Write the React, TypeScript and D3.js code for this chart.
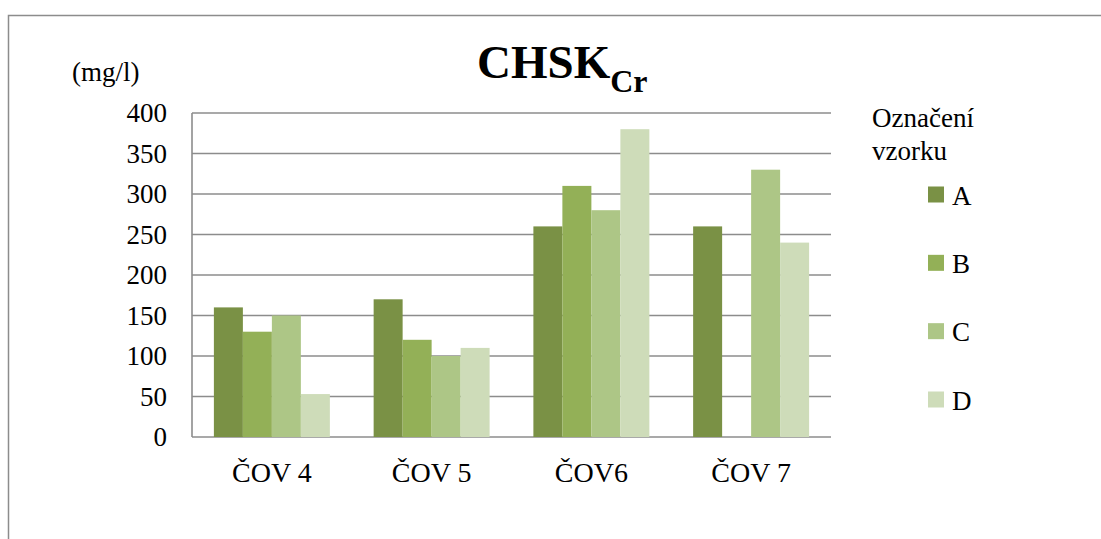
import React from "react";
import * as d3 from "d3";

const categories = ["ČOV 4", "ČOV 5", "ČOV6", "ČOV 7"];
const seriesNames = ["A", "B", "C", "D"];
const seriesA = [160, 170, 260, 260];
const seriesB = [130, 120, 310, null];
const seriesC = [150, 100, 280, 330];
const seriesD = [53, 110, 380, 240];
const yTicks = [0, 50, 100, 150, 200, 250, 300, 350, 400];
const colors = ["#7a9145", "#93b057", "#adc686", "#cedcb9"];

const W = 1101;
const H = 539;
const plot = { left: 192, right: 831, top: 113, bottom: 437 };
const FONT = "Liberation Serif, Times New Roman, Times, Tinos, DejaVu Serif, serif";
const GRID = "#8c8c8c";
const textStyle = { fontFamily: FONT };

export default function App() {
  const series = [seriesA, seriesB, seriesC, seriesD];
  const x0 = d3
    .scaleBand<string>()
    .domain(categories)
    .range([plot.left, plot.right])
    .paddingInner(0.274)
    .paddingOuter(0.137);
  const x1 = d3.scaleBand<string>().domain(seriesNames).range([0, x0.bandwidth()]);
  const y = d3.scaleLinear().domain([0, 400]).range([plot.bottom, plot.top]);

  const legendY = d3.scalePoint<string>().domain(seriesNames).range([194.5, 399.5]);

  return (
    <svg
      width={W}
      height={H}
      style={{ position: "absolute", left: 0, top: 0, background: "#fff", fontFamily: FONT }}
    >
      {/* chart frame */}
      <path d={`M8.5,${H} V15.5 H${W}`} fill="none" stroke={GRID} strokeWidth={1.5} />

      {/* title */}
      <text x={477} y={78} fontSize={47} fontWeight="bold" fill="#000" style={textStyle}>
        CHSK
        <tspan fontSize={32} dy={14}>Cr</tspan>
      </text>

      {/* unit label */}
      <text x={72} y={81} fontSize={27} fill="#000" style={textStyle}>(mg/l)</text>

      {/* gridlines */}
      {yTicks.map((t) => (
        <line
          key={t}
          x1={plot.left}
          x2={plot.right}
          y1={y(t)}
          y2={y(t)}
          stroke={GRID}
          strokeWidth={1.6}
        />
      ))}
      <line x1={plot.left} x2={plot.left} y1={plot.top} y2={plot.bottom} stroke={GRID} strokeWidth={1.6} />

      {/* y tick labels */}
      {yTicks.map((t) => (
        <text
          key={t}
          x={167}
          y={y(t) + 9}
          fontSize={27}
          textAnchor="end"
          fill="#000"
          style={textStyle}
        >
          {t}
        </text>
      ))}

      {/* bars */}
      {categories.map((c, ci) => (
        <g key={c} transform={`translate(${x0(c)},0)`}>
          {series.map((s, si) => {
            const v = s[ci];
            if (v == null) return null;
            return (
              <rect
                key={si}
                x={x1(seriesNames[si])}
                y={y(v)}
                width={x1.bandwidth()}
                height={y(0) - y(v)}
                fill={colors[si]}
              />
            );
          })}
        </g>
      ))}

      {/* category labels */}
      {categories.map((c) => (
        <text
          key={c}
          x={(x0(c) as number) + x0.bandwidth() / 2}
          y={482}
          fontSize={28}
          textAnchor="middle"
          fill="#000"
          style={textStyle}
        >
          {c}
        </text>
      ))}

      {/* legend */}
      <text x={872} y={127} fontSize={27} fill="#000" style={textStyle}>Označení</text>
      <text x={872} y={160} fontSize={27} fill="#000" style={textStyle}>vzorku</text>
      {seriesNames.map((n, i) => (
        <g key={n}>
          <rect x={928} y={(legendY(n) as number) - 8} width={16} height={16} fill={colors[i]} />
          <text x={952} y={(legendY(n) as number) + 10} fontSize={27} fill="#000" style={textStyle}>
            {n}
          </text>
        </g>
      ))}
    </svg>
  );
}
